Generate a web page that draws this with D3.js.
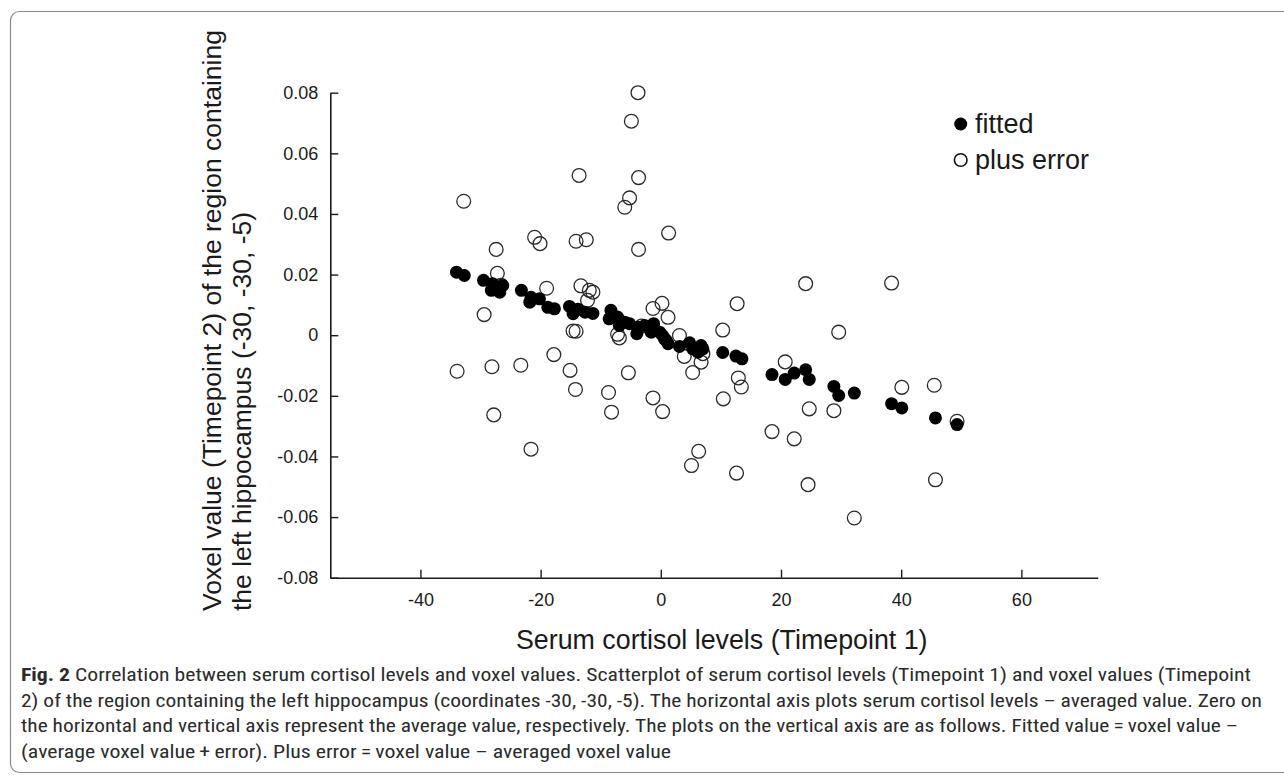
<!DOCTYPE html>
<html><head><meta charset="utf-8">
<script src="https://cdn.jsdelivr.net/npm/d3@7"></script>
<style>
html,body{margin:0;padding:0;background:#fff;}
svg{display:block;}
</style></head>
<body>
<svg id="chart" width="1284" height="776"></svg>
<script>
// ---- data ----
const plusErrorX = [-3.8,-4.9,-13.6,-3.7,-32.8,-5.2,-6.0,-21.0,-20.1,-14.1,-12.4,-3.7,-27.4,1.3,-27.2,-26.6,-19.0,-13.3,-11.9,-11.3,-12.2,-29.4,24.1,38.4,12.7,0.2,-1.3,1.2,10.3,29.6,-14.6,-14.1,-7.2,-6.9,-3.2,3.1,3.9,7.0,6.7,5.3,-33.9,-28.1,-23.3,-17.8,-15.1,-5.4,-14.2,-8.7,-1.3,-27.8,-8.2,0.3,-21.6,20.7,12.9,13.4,10.4,40.1,45.5,24.7,28.8,18.5,22.2,6.3,5.1,12.6,24.5,45.7,32.2,49.3];
const plusErrorY = [0.0800,0.0706,0.0527,0.0520,0.0442,0.0453,0.0422,0.0323,0.0302,0.0310,0.0315,0.0283,0.0283,0.0337,0.0204,0.0165,0.0155,0.0163,0.0148,0.0142,0.0115,0.0068,0.0170,0.0172,0.0104,0.0105,0.0088,0.0059,0.0017,0.0010,0.0014,0.0013,0.0003,-0.0009,0.0030,-0.0001,-0.0070,-0.0061,-0.0089,-0.0123,-0.0119,-0.0104,-0.0099,-0.0064,-0.0116,-0.0124,-0.0179,-0.0189,-0.0207,-0.0263,-0.0254,-0.0252,-0.0376,-0.0088,-0.0141,-0.0171,-0.0210,-0.0172,-0.0165,-0.0243,-0.0249,-0.0318,-0.0342,-0.0383,-0.0430,-0.0455,-0.0493,-0.0477,-0.0603,-0.0284];
const fittedX = [-34.0,-32.7,-29.5,-28.0,-27.4,-28.2,-26.8,-26.3,-23.2,-21.6,-21.8,-20.2,-18.8,-17.7,-15.2,-14.6,-13.8,-12.6,-11.3,-8.3,-8.6,-7.2,-6.9,-6.0,-5.2,-4.0,-3.8,-2.7,-1.6,-1.2,-1.3,-0.2,0.3,0.6,0.9,1.2,3.1,4.8,5.3,6.2,6.7,7.0,10.3,12.5,13.5,18.5,20.7,22.2,24.1,24.7,28.8,29.6,32.2,38.4,40.1,45.7,49.3];
const fittedY = [0.0208,0.0197,0.0181,0.0170,0.0158,0.0148,0.0142,0.0164,0.0148,0.0125,0.0109,0.0120,0.0092,0.0087,0.0095,0.0071,0.0086,0.0076,0.0072,0.0082,0.0054,0.0060,0.0032,0.0043,0.0038,0.0005,0.0026,0.0032,0.0010,0.0038,0.0016,0.0010,-0.0001,-0.0012,-0.0017,-0.0028,-0.0037,-0.0025,-0.0045,-0.0056,-0.0034,-0.0045,-0.0057,-0.0069,-0.0078,-0.0130,-0.0146,-0.0125,-0.0114,-0.0146,-0.0169,-0.0199,-0.0191,-0.0226,-0.0240,-0.0273,-0.0295];
const xTicks = [-40,-20,0,20,40,60];
const xTickLabels = ["-40","-20","0","20","40","60"];
const yTicks = [-0.08,-0.06,-0.04,-0.02,0,0.02,0.04,0.06,0.08];
const yTickLabels = ["-0.08","-0.06","-0.04","-0.02","0","0.02","0.04","0.06","0.08"];
const legendLabels = ["fitted","plus error"];
const xTitle = "Serum cortisol levels (Timepoint 1)";
const yTitleLines = ["Voxel value (Timepoint 2) of the region containing","the left hippocampus (-30, -30, -5)"];
const captionBold = "Fig. 2";
const captionLines = [
 "  Correlation between serum cortisol levels and voxel values. Scatterplot of serum cortisol levels (Timepoint 1) and voxel values (Timepoint",
 "2) of the region containing the left hippocampus (coordinates -30, -30, -5). The horizontal axis plots serum cortisol levels \u2013 averaged value. Zero on",
 "the horizontal and vertical axis represent the average value, respectively. The plots on the vertical axis are as follows. Fitted value\u2009=\u2009voxel value \u2013",
 "(average voxel value\u2009+\u2009error). Plus error\u2009=\u2009voxel value \u2013 averaged voxel value"
];

const svg = d3.select("#chart");
const FONT = "'Liberation Sans', Arial, Helvetica, sans-serif";
const ink = "#1a1a1a";

// frame
svg.append("rect").attr("x",10.5).attr("y",11.5).attr("width",1320).attr("height",761)
  .attr("rx",9).attr("fill","none").attr("stroke","#8a8a8a").attr("stroke-width",1.2);

const x = d3.scaleLinear().domain([-55, 72.7]).range([330.3, 1097.7]);
const y = d3.scaleLinear().domain([-0.08, 0.08]).range([577.7, 92.7]);

// axes
const gx = svg.append("g").attr("transform",`translate(0,${y(-0.08)})`)
  .call(d3.axisBottom(x).tickValues(xTicks).tickFormat((d,i)=>xTickLabels[i])
        .tickSizeInner(-8).tickSizeOuter(0).tickPadding(16));
const gy = svg.append("g").attr("transform",`translate(${x(-55)},0)`)
  .call(d3.axisLeft(y).tickValues(yTicks).tickFormat((d,i)=>yTickLabels[i])
        .tickSizeInner(-8).tickSizeOuter(0).tickPadding(12));
[gx,gy].forEach(g=>{
  g.select(".domain").attr("stroke",ink).attr("stroke-width",1.6);
  g.selectAll(".tick line").attr("stroke",ink).attr("stroke-width",1.4);
  g.selectAll(".tick text").attr("fill",ink).style("font-family",FONT).style("font-size","18px");
});

// points: plus error (open) first, then fitted (filled)
const errData = plusErrorX.map((v,i)=>({x:v,y:plusErrorY[i]}));
const fitData = fittedX.map((v,i)=>({x:v,y:fittedY[i]}));
svg.append("g").selectAll("circle").data(errData).join("circle")
  .attr("cx",d=>x(d.x)).attr("cy",d=>y(d.y)).attr("r",6.9)
  .attr("fill","none").attr("stroke","#2a2a2a").attr("stroke-width",1.3);
svg.append("g").selectAll("circle").data(fitData).join("circle")
  .attr("cx",d=>x(d.x)).attr("cy",d=>y(d.y)).attr("r",6.5)
  .attr("fill","#000");

// legend
const lg = svg.append("g");
lg.append("circle").attr("cx",960.7).attr("cy",124).attr("r",6.5).attr("fill","#000");
lg.append("circle").attr("cx",960.7).attr("cy",160).attr("r",6.3).attr("fill","none").attr("stroke","#111").attr("stroke-width",1.6);
lg.selectAll("text").data(legendLabels).join("text")
  .attr("x",975).attr("y",(d,i)=>133+i*36)
  .style("font-family",FONT).style("font-size","27px").attr("fill",ink).text(d=>d);

// axis titles
svg.append("text").attr("x",516).attr("y",649).attr("fill",ink)
  .style("font-family",FONT).style("font-size","26.8px").text(xTitle);
svg.append("g").selectAll("text").data(yTitleLines).join("text")
  .attr("transform",(d,i)=>`translate(${221+i*30},611) rotate(-90)`)
  .attr("text-anchor","start").attr("fill",ink)
  .style("font-family",FONT).style("font-size","26.5px").text(d=>d);

// caption
const CFONT = "'Liberation Sans Narrow','Roboto Condensed','Open Sans',sans-serif";
const capWidths = [1230, 1241, 1217, 650];
captionLines.forEach((line,i)=>{
  const t = svg.append("text").attr("x",21).attr("y",681+i*25.7)
    .attr("fill","#2b2b2b").style("font-family",CFONT).style("font-size","18px")
    .attr("textLength",capWidths[i]).attr("lengthAdjust","spacingAndGlyphs");
  if(i===0){
    t.append("tspan").style("font-weight","bold").text(captionBold);
  }
  t.append("tspan").text(line);
});
</script>
</body></html>
